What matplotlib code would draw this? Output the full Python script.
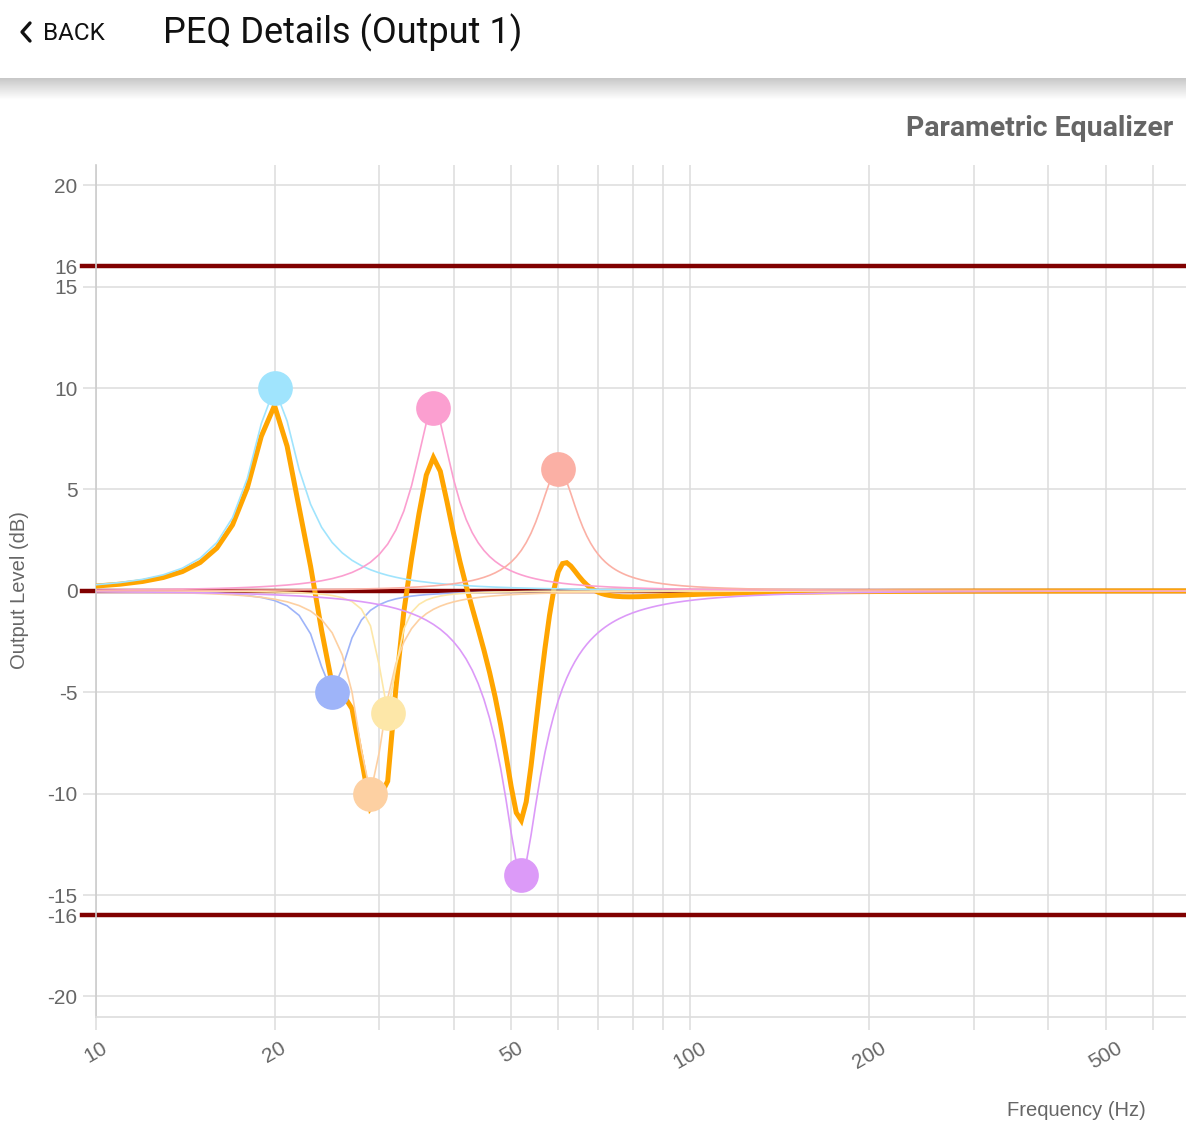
import numpy as np
import matplotlib
matplotlib.use('Agg')
import matplotlib.pyplot as plt
from matplotlib.lines import Line2D
from matplotlib.ticker import FixedLocator, FixedFormatter

plt.rcParams['font.family'] = ['Liberation Sans', 'DejaVu Sans']

# PEQ bands: centre (Hz), gain (dB), Q
band_freq = [20, 25, 29, 31, 37, 52, 60]
band_gain = [10, -5, -10, -6, 9, -14, 6]
band_q = [4.2, 7.0, 7.0, 12.0, 5.0, 4.6, 5.0]
band_color = ['#a0e4fd', '#9eb4f9', '#fdd0a2', '#fde7a8', '#fb9fd0', '#dc9af8', '#fbb0a5']

limit_db = [16, -16, 0]
x_ticks = [10, 20, 30, 40, 50, 60, 70, 80, 90, 100, 200, 300, 400, 500, 600]
x_labels = ['10', '20', '', '', '50', '', '', '', '', '100', '200', '', '', '500', '']
y_ticks = [-20, -16, -15, -10, -5, 0, 5, 10, 15, 16, 20]
y_grid = [-20, -15, -10, -5, 0, 5, 10, 15, 20]

FS = 48000.0
freqs = np.arange(10, 683)  # curve is evaluated at every whole Hz


def peq_db(f, fc, gain, q):
    # RBJ peaking biquad
    A = 10 ** (gain / 40.0)
    w0 = 2 * np.pi * fc / FS
    alpha = np.sin(w0) / (2 * q)
    b = np.array([1 + alpha * A, -2 * np.cos(w0), 1 - alpha * A])
    a = np.array([1 + alpha / A, -2 * np.cos(w0), 1 - alpha / A])
    z = np.exp(-1j * 2 * np.pi * f / FS)
    h = (b[0] + b[1] * z + b[2] * z ** 2) / (a[0] + a[1] * z + a[2] * z ** 2)
    return 20 * np.log10(np.abs(h))


fig = plt.figure(figsize=(11.86, 11.36), dpi=100)
W, H = 1186.0, 1136.0

# header + shadow
fig.text(163 / W, 1 - 33 / H, 'PEQ Details (Output 1)', fontsize=26, family='Roboto',
         color='#111111', va='center', ha='left')
fig.text(43 / W, 1 - 33 / H, 'BACK', fontsize=17.5, family='Roboto', color='#111111',
         va='center', ha='left')
fig.add_artist(Line2D([30 / W, 22 / W, 30 / W], [1 - 23 / H, 1 - 32 / H, 1 - 41 / H],
                      color='#111111', lw=2.4, solid_capstyle='round'))
sh = fig.add_axes([0, 1 - 100 / H, 1, 22 / H])
grad = np.linspace(0.66, 1.0, 64) ** 0.6
sh.imshow(grad[:, None], cmap='gray', vmin=0, vmax=1, aspect='auto', extent=[0, 1, 0, 1])
sh.axis('off')

fig.text(1173 / W, 1 - 129 / H, 'Parametric Equalizer', fontsize=20.5, fontweight='bold',
         family='Roboto', color='#666666', ha='right', va='center')

ax = fig.add_axes([95.5 / W, 1 - 1016.7 / H, 1 - 95.5 / W, (1016.7 - 165) / H])
ax.set_xscale('log')
ax.set_xlim(10, 682)
ax.set_ylim(-21, 21)

grid_c = '#dddddd'
for v in x_ticks:
    ax.axvline(v, color=grid_c, lw=1.1, zorder=0)
for v in y_grid:
    ax.axhline(v, color=grid_c, lw=1.1, zorder=0)

ax.xaxis.set_major_locator(FixedLocator(x_ticks))
ax.xaxis.set_major_formatter(FixedFormatter(x_labels))
ax.xaxis.set_minor_locator(FixedLocator([]))
ax.set_yticks(y_ticks)
ax.set_yticklabels([str(v) for v in y_ticks])
ax.tick_params(axis='both', length=9.5, width=1.1, color=grid_c, labelcolor='#666666',
               labelsize=15)
ax.tick_params(axis='y', pad=3.5)
ax.tick_params(axis='x', pad=6)
for lab in ax.get_xticklabels():
    lab.set_rotation(30)
    lab.set_ha('center')

for s in ['top', 'right']:
    ax.spines[s].set_visible(False)
ax.spines['left'].set_color('#cccccc')
ax.spines['bottom'].set_color(grid_c)
ax.spines['left'].set_linewidth(1.2)
ax.spines['bottom'].set_linewidth(1.2)

# limit lines
for v in limit_db:
    ax.axhline(v, xmin=-0.0124, xmax=1, color='#800000', lw=3.2, clip_on=False, zorder=2)

# summed response under the thin band curves
total = np.zeros(len(freqs))
for fc, g, q in zip(band_freq, band_gain, band_q):
    total += peq_db(freqs, fc, g, q)
ax.plot(freqs, total, color='#ffa500', lw=3.6, zorder=3, solid_joinstyle='miter')

for fc, g, q, c in zip(band_freq, band_gain, band_q, band_color):
    ax.plot(freqs, peq_db(freqs, fc, g, q), color=c, lw=1.2, zorder=4)

for fc, g, c in zip(band_freq, band_gain, band_color):
    ax.plot([fc], [g], 'o', ms=25, color=c, mec='none', zorder=5)

fig.text(20 / W, 1 - 590 / H, 'Output Level (dB)', rotation=90, fontsize=14.5,
         color='#666666', ha='center', va='center')
fig.text(1076 / W, 1 - 1111 / H, 'Frequency (Hz)', fontsize=14.5, color='#666666',
         ha='center', va='center')

fig.savefig('out.png', dpi=100, facecolor='white')
